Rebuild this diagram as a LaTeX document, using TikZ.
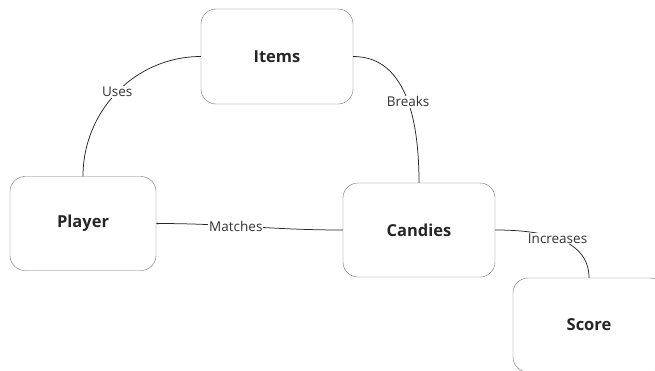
\documentclass[tikz,border=0pt]{standalone}
\usepackage{fontspec}
\setmainfont{Open Sans}
\usetikzlibrary{arrows.meta}

\begin{document}
\begin{tikzpicture}[
  x=1pt, y=-1pt,
  box/.style  = {draw=black!55, rounded corners=15pt, font=\fontsize{16.5}{19}\selectfont\bfseries, text=black!85},
  lbl/.style  = {fill=white, inner sep=1pt, font=\fontsize{13.5}{16}\selectfont, text=black!80},
  con/.style  = {draw=black!85, line width=0.75pt},
]
\clip (0,0) rectangle (655,370);
\useasboundingbox (0,0) rectangle (655,370);
\node[box, minimum width=152pt, minimum height=95pt] (items)   at (277,56.5) {Items};
\node[box, minimum width=146pt, minimum height=94pt] (player)  at (83,223.5) {Player};
\node[box, minimum width=152pt, minimum height=94pt] (candies) at (419,230)  {Candies};
\node[box, minimum width=152pt, minimum height=94pt] (score)   at (589,325)  {Score};
\draw[con] (player.north) to[out=90,in=180] node[lbl, pos=0.5] {Uses} (items.west);
\draw[con] (items.east) to[out=0,in=90] node[lbl, pos=0.52] {Breaks} (candies.north);
\draw[con, -{Stealth[length=2pt,width=2pt]}] (candies.west) to[out=180,in=0] node[lbl, pos=0.58] {Matches} (player.east);
\draw[con] (candies.east) to[out=0,in=90] node[lbl, pos=0.5] {Increases} (score.north);
\end{tikzpicture}
\end{document}
